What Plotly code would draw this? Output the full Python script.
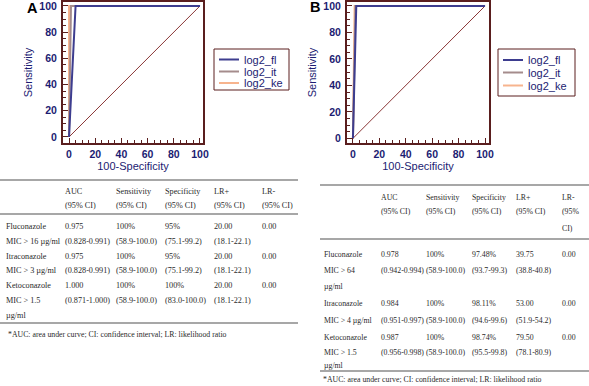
import plotly.graph_objects as go

W, H = 589, 386

# ---------------- data ----------------
series_names = ["log2_fl", "log2_it", "log2_ke"]
series_colors = ["#3d3d8f", "#a58c8c", "#f7b48e"]

# Panel A ROC curves (100-Specificity, Sensitivity)
A_fpr = {"log2_fl": [0, 5, 100], "log2_it": [0, 1.5, 100], "log2_ke": [0, 0, 100]}
A_tpr = {"log2_fl": [0, 100, 100], "log2_it": [0, 100, 100], "log2_ke": [0, 100, 100]}
# Panel B ROC curves
B_fpr = {"log2_fl": [0, 2.52, 100], "log2_it": [0, 1.89, 100], "log2_ke": [0, 1.26, 100]}
B_tpr = {"log2_fl": [0, 100, 100], "log2_it": [0, 100, 100], "log2_ke": [0, 100, 100]}
diag = [0, 100]
tick_vals = [0, 20, 40, 60, 80, 100]

table_A_header1 = ["", "AUC", "Sensitivity", "Specificity", "LR+", "LR-"]
table_A_header2 = ["", "(95% CI)", "(95% CI)", "(95% CI)", "(95% CI)", "(95% CI)"]
table_A_rows = [
    ["Fluconazole", "0.975", "100%", "95%", "20.00", "0.00"],
    ["MIC > 16 µg/ml", "(0.828-0.991)", "(58.9-100.0)", "(75.1-99.2)", "(18.1-22.1)", ""],
    ["Itraconazole", "0.975", "100%", "95%", "20.00", "0.00"],
    ["MIC > 3 µg/ml", "(0.828-0.991)", "(58.9-100.0)", "(75.1-99.2)", "(18.1-22.1)", ""],
    ["Ketoconazole", "1.000", "100%", "100%", "20.00", "0.00"],
    ["MIC > 1.5", "(0.871-1.000)", "(58.9-100.0)", "(83.0-100.0)", "(18.1-22.1)", ""],
    ["µg/ml", "", "", "", "", ""],
]
table_B_header1 = ["", "AUC", "Sensitivity", "Specificity", "LR+", "LR-"]
table_B_header2 = ["", "(95% CI)", "(95% CI)", "(95% CI)", "(95% CI)", "(95%"]
table_B_header3 = ["", "", "", "", "", "CI)"]
table_B_rows = [
    ["Fluconazole", "0.978", "100%", "97.48%", "39.75", "0.00"],
    ["MIC > 64", "(0.942-0.994)", "(58.9-100.0)", "(93.7-99.3)", "(38.8-40.8)", ""],
    ["µg/ml", "", "", "", "", ""],
    ["Itraconazole", "0.984", "100%", "98.11%", "53.00", "0.00"],
    ["MIC > 4 µg/ml", "(0.951-0.997)", "(58.9-100.0)", "(94.6-99.6)", "(51.9-54.2)", ""],
    ["Ketoconazole", "0.987", "100%", "98.74%", "79.50", "0.00"],
    ["MIC > 1.5", "(0.956-0.998)", "(58.9-100.0)", "(95.5-99.8)", "(78.1-80.9)", ""],
    ["µg/ml", "", "", "", "", ""],
]
footnote = "*AUC: area under curve; CI: confidence interval; LR: likelihood ratio"

# ---------------- layout helpers ----------------
def px(x):
    return x / W

def py(y):
    return 1 - y / H

NAVY = "#1c1c72"
FRAME = "#5a1e1e"
DIAG = "#8a3636"
TXT = "#2a2a2a"
SERIF = "Liberation Serif"
SANS = "Liberation Sans"

fig = go.Figure()

draw_order = ["log2_ke", "log2_it", "log2_fl"]
for xa, ya, F, T in [("x", "y", A_fpr, A_tpr), ("x2", "y2", B_fpr, B_tpr)]:
    fig.add_trace(go.Scatter(x=diag, y=diag, mode="lines", line=dict(color=DIAG, width=1),
                             xaxis=xa, yaxis=ya, showlegend=False, hoverinfo="skip"))
    for name in draw_order:
        col = series_colors[series_names.index(name)]
        fig.add_trace(go.Scatter(x=F[name], y=T[name], mode="lines", name=name,
                                 line=dict(color=col, width=2), xaxis=xa, yaxis=ya, showlegend=False))

def axis(domain, rng, title, anchor, standoff, tickstandoff):
    return dict(
        domain=domain, range=rng, anchor=anchor, showgrid=False, zeroline=False,
        showline=True, mirror=True, linecolor=FRAME, linewidth=2,
        tickvals=tick_vals, ticks="inside", ticklen=5, tickcolor=FRAME, tickwidth=1,
        minor=dict(dtick=5, ticks="inside", ticklen=3, tickcolor=FRAME),
        tickfont=dict(family=SANS, size=10.5, color=NAVY, weight="bold"),
        ticklabeloverflow="allow",
        title=dict(text=title, font=dict(family=SANS, size=11, color=NAVY), standoff=standoff),
        automargin=False, ticklabelstandoff=tickstandoff,
    )

fig.update_layout(
    width=W, height=H, autosize=False,
    margin=dict(l=0, r=0, t=0, b=0),
    paper_bgcolor="white", plot_bgcolor="white", showlegend=False,
    xaxis=axis([px(63), px(203)], [-4.6, 102.3], "100-Specificity", "y", 1, 0),
    yaxis=axis([py(143), py(2)], [-4.6, 103], "Sensitivity", "x", 5, 2),
    xaxis2=axis([px(347), px(489)], [-4.5, 103], "100-Specificity", "y2", 1, 0),
    yaxis2=axis([py(143), py(2)], [-3.5, 103], "Sensitivity", "x2", 5, 2),
)

shapes = []
ann = []

# panel letters
ann.append(dict(text="<b>A</b>", x=px(32), y=py(8), xref="paper", yref="paper", showarrow=False,
                font=dict(family=SANS, size=14.5, color="black"), xanchor="center", yanchor="middle"))
ann.append(dict(text="<b>B</b>", x=px(315), y=py(7), xref="paper", yref="paper", showarrow=False,
                font=dict(family=SANS, size=14.5, color="black"), xanchor="center", yanchor="middle"))

# manual legends
def legend(x0, x1, y0, y1, ys, lx0, lx1, tx):
    shapes.append(dict(type="rect", xref="paper", yref="paper", x0=px(x0), x1=px(x1), y0=py(y1), y1=py(y0),
                       line=dict(color=FRAME, width=1), fillcolor="white"))
    for name, col, yy in zip(series_names, series_colors, ys):
        shapes.append(dict(type="line", xref="paper", yref="paper", x0=px(lx0), x1=px(lx1), y0=py(yy), y1=py(yy),
                           line=dict(color=col, width=2)))
        ann.append(dict(text=name, x=px(tx), y=py(yy), xref="paper", yref="paper", showarrow=False,
                        xanchor="left", yanchor="middle", font=dict(family=SANS, size=11, color=NAVY)))

legend(214, 289, 49, 90, [59.5, 71.5, 83], 219, 239, 242)
legend(498, 575, 49, 96, [60, 72.5, 85.5], 503, 523, 526)

def hline(x0, x1, y, w=1.3):
    shapes.append(dict(type="line", xref="paper", yref="paper", x0=px(x0), x1=px(x1), y0=py(y), y1=py(y),
                       line=dict(color="#8a8a8a", width=w)))

def row(cells, xs, y, size):
    for c, x in zip(cells, xs):
        if c:
            ann.append(dict(text=c, x=px(x), y=py(y), xref="paper", yref="paper", showarrow=False,
                            xanchor="left", yanchor="middle", font=dict(family=SERIF, size=size, color=TXT)))

# table A
FA = 8.2
A_cols = [4, 63, 114, 163, 212, 260]
hline(0, 298, 180)
row(table_A_header1, A_cols, 191, FA)
row(table_A_header2, A_cols, 205, FA)
hline(0, 298, 214)
A_row_y = [226, 241, 256, 270.5, 285, 300, 315]
for r, y in zip(table_A_rows, A_row_y):
    row(r, A_cols, y, FA)
hline(0, 298, 323)
ann.append(dict(text=footnote, x=px(6), y=py(334), xref="paper", yref="paper", showarrow=False,
                xanchor="left", yanchor="middle", font=dict(family=SERIF, size=7.8, color=TXT)))

# table B
FB = 7.8
B_cols = [322, 379, 424, 470, 514, 560]
hline(320, 589, 185)
row(table_B_header1, B_cols, 197, FB)
row(table_B_header2, B_cols, 212, FB)
row(table_B_header3, B_cols, 228, FB)
hline(320, 589, 239)
B_row_y = [254, 270, 286, 303, 320, 337, 352, 365]
for r, y in zip(table_B_rows, B_row_y):
    row(r, B_cols, y, FB)
hline(320, 589, 371)
ann.append(dict(text=footnote, x=px(321), y=py(379.5), xref="paper", yref="paper", showarrow=False,
                xanchor="left", yanchor="middle", font=dict(family=SERIF, size=7.8, color=TXT)))

fig.update_layout(shapes=shapes, annotations=ann)
fig.write_html("out.html", config={"displayModeBar": False},
               post_script="document.body.style.margin='0';document.body.style.overflow='hidden';")
